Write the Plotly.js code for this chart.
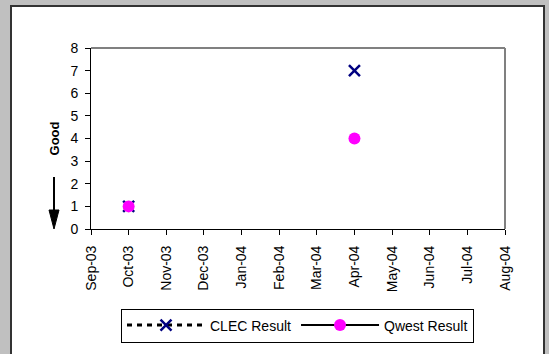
<!DOCTYPE html>
<html>
<head>
<meta charset="utf-8">
<script src="https://cdn.plot.ly/plotly-3.0.1.min.js"></script>
<style>
html, body { margin:0; padding:0; width:549px; height:354px; overflow:hidden; background:#c0c0c0; }
#panel { position:absolute; left:10px; top:5px; width:531px; height:360px; background:#ffffff;
         border-left:2px solid #333333; border-top:2px solid #333333; border-right:2px solid #333333; }
#chart { position:absolute; left:0; top:0; width:549px; height:354px; }
</style>
</head>
<body>
<div id="panel"></div>
<div id="chart"></div>
<script>
var months = ["Sep-03","Oct-03","Nov-03","Dec-03","Jan-04","Feb-04","Mar-04","Apr-04","May-04","Jun-04","Jul-04","Aug-04"];
var clecResult  = [null, 1, null, null, null, null, null, 7, null, null, null, null];
var qwestResult = [null, 1, null, null, null, null, null, 4, null, null, null, null];
var yTicks = [0,1,2,3,4,5,6,7,8];

var font = "Liberation Sans, Arial, sans-serif";

var traces = [
  {
    x: months, y: clecResult, name: "CLEC Result", type: "scatter", mode: "lines+markers",
    connectgaps: false,
    line: {color: "#000000", width: 3, dash: "5px,5px"},
    marker: {symbol: "x-thin-open", size: 11, color: "#000080", line: {color: "#000080", width: 2.5}}
  },
  {
    x: months, y: qwestResult, name: "Qwest Result", type: "scatter", mode: "lines+markers",
    connectgaps: false,
    line: {color: "#000000", width: 2},
    marker: {symbol: "circle", size: 12, color: "#ff00ff", line: {width: 0}}
  }
];

var L = 91, R = 44, T = 48, B = 125;
var W = 549 - L - R, H = 354 - T - B;
function px(x){ return (x - L) / W; }
function py(y){ return (354 - B - y) / H; }

var layout = {
  width: 549, height: 354,
  margin: {l: L, r: R, t: T, b: B, pad: 0},
  paper_bgcolor: "rgba(0,0,0,0)",
  plot_bgcolor: "#ffffff",
  font: {family: font, size: 14, color: "#000000"},
  showlegend: true,
  legend: {
    orientation: "h", x: px(121), y: py(325.5), xanchor: "left", yanchor: "middle",
    bgcolor: "#ffffff", bordercolor: "#000000", borderwidth: 1,
    font: {family: font, size: 14, color: "#000000"},
    itemwidth: 78, itemclick: false
  },
  xaxis: {
    type: "category", categoryorder: "array", categoryarray: months,
    range: [0, months.length - 1],
    showgrid: false, zeroline: false,
    showline: true, linecolor: "#000000", linewidth: 1,
    ticks: "outside", ticklen: 5, tickcolor: "#000000", tickwidth: 1,
    tickangle: -90, tickfont: {family: font, size: 14},
    ticklabelstandoff: 5,
    fixedrange: true
  },
  yaxis: {
    range: [0, 8], tickvals: yTicks,
    showgrid: false, zeroline: false,
    showline: true, linecolor: "#000000", linewidth: 1,
    ticks: "outside", ticklen: 5, tickcolor: "#000000", tickwidth: 1,
    tickfont: {family: font, size: 14},
    ticklabelstandoff: 4,
    title: {text: "<b>Good</b>", font: {family: font, size: 13}, standoff: 7},
    fixedrange: true
  },
  shapes: [
    {type: "line", xref: "paper", yref: "paper", x0: 0, x1: 1, y0: 1, y1: 1, line: {color: "#808080", width: 2}},
    {type: "line", xref: "paper", yref: "paper", x0: 1, x1: 1, y0: 0, y1: 1, line: {color: "#808080", width: 2}},
    {type: "line", xref: "paper", yref: "paper", x0: px(54), x1: px(54), y0: py(177), y1: py(212), line: {color: "#000000", width: 2}},
    {type: "path", xref: "paper", yref: "paper",
     path: "M" + px(49) + "," + py(210) + " L" + px(59) + "," + py(210) + " L" + px(54) + "," + py(229) + " Z",
     fillcolor: "#000000", line: {color: "#000000", width: 1}}
  ]
};

Plotly.newPlot("chart", traces, layout, {displayModeBar: false, staticPlot: true});
</script>
</body>
</html>
